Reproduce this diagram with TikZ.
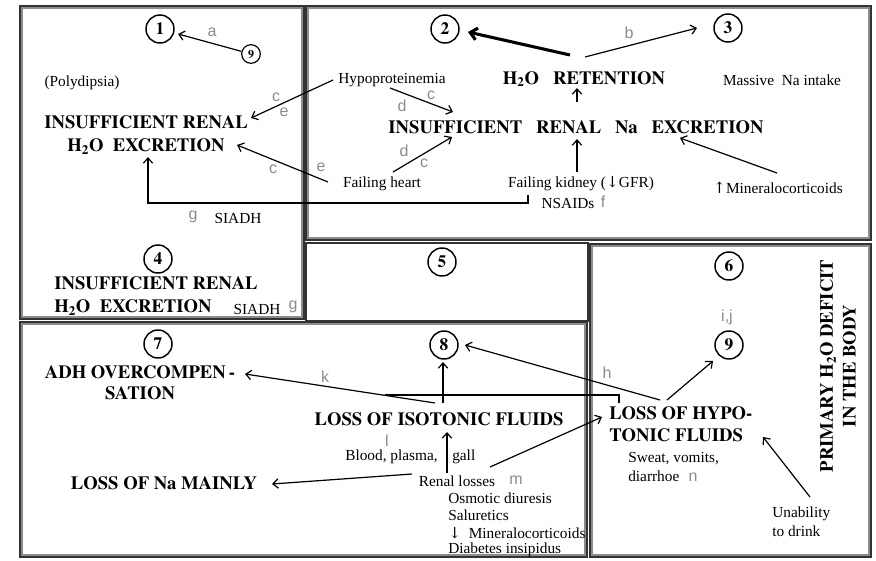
\documentclass[tikz,border=0pt]{standalone}
\usepackage{fontspec}
\setmainfont{Liberation Serif}
\newfontfamily\tbold{texgyretermes-bold.otf}
\newfontfamily\labfont{Liberation Sans}
\newfontfamily\arrfont{DejaVu Serif}
\usetikzlibrary{arrows.meta}
\begin{document}
\begin{tikzpicture}[x=0.75pt,y=-0.75pt,
  bold/.style={font=\tbold\fontsize{14}{16}\selectfont, inner sep=0pt},
  txt/.style={font=\fontsize{11.5}{12.8}\selectfont, inner sep=0pt},
  lab/.style={font=\labfont\fontsize{12}{14}\selectfont, text=black!45, inner sep=0pt},
  num/.style={circle, draw, line width=1.1pt, minimum size=21pt, inner sep=0pt, font=\tbold\fontsize{13}{13}\selectfont},
  snum/.style={num, minimum size=14pt, line width=0.9pt, font=\tbold\fontsize{9}{9}\selectfont},
  arr/.style={-{Straight Barb[length=4pt,width=7pt]}, line width=0.9pt},
  tarr/.style={-{Straight Barb[length=5pt,width=9pt]}, line width=2.3pt},
  boxo/.style={draw=black!80, line width=1.5pt},
  boxi/.style={draw=black!45, line width=1.5pt}]
\fill[white] (0,0) rectangle (876,561);
\useasboundingbox (0,0) rectangle (876,561);
% boxes
\draw[boxo] (20,6) rectangle (304,319);
\draw[boxi] (22,8) rectangle (302,317);
\draw[boxo] (306,6) rectangle (871,240);
\draw[boxi] (308,8) rectangle (869,238);
\draw[boxo] (306,243) rectangle (588,321);
\draw[boxo] (590,244) rectangle (871,557);
\draw[boxi] (592,246) rectangle (869,555);
\draw[boxo] (20,322) rectangle (587,557);
\draw[boxi] (22,324) rectangle (585,555);

% ---------- box 1
\node[num] (c1) at (160,29) {1};
\node[snum] (s9) at (251,54) {9};
\draw[arr, shorten >=3pt] (s9) -- (c1);
\node[lab] (la) at (212,32) {a};
\node[txt] (poly) at (82,83) {(Polydipsia)};
\node[bold, align=center] (ire1) at (146,135) {INSUFFICIENT RENAL\\[1pt]H\textsubscript{2}O\ \ EXCRETION};
\coordinate (ire1a) at (251,118);
\coordinate (ire1b) at (237,145);
\coordinate (ire1c) at (148,157);
\node[lab] (lc1) at (276,97) {c};
\node[lab] (le1) at (284,112) {e};
\node[lab] (lc2) at (273,169) {c};
\node[lab] (le2) at (321,167) {e};
\node[lab] (lg1) at (193,217) {g};
\node[txt] (siadh1) at (238,218) {SIADH};
\node[num] (c4) at (158,259) {4};
\node[bold, align=left, anchor=west, font=\tbold\fontsize{14}{17}\selectfont] (ire4) at (54,296) {INSUFFICIENT RENAL\\H\textsubscript{2}O\ \ EXCRETION};
\node[txt] (siadh2) at (257,309) {SIADH};
\node[lab] (lg2) at (293,307) {g};

% ---------- box 2/3
\node[num] (c2) at (445,29) {2};
\node[num] (c3) at (728,28) {3};
\node[bold] (ret) at (584,79) {H\textsubscript{2}O\ \ \ RETENTION};
\node[bold] (irna) at (576,127) {INSUFFICIENT\ \ \ RENAL\ \ \ Na\ \ \ EXCRETION};
\node[txt] (hypo) at (392,80) {Hypoproteinemia};
\node[txt] (heart) at (382,184) {Failing heart};
\node[txt] (kidney) at (581,184) {Failing kidney ({\arrfont ↓}GFR)};
\node[txt] (nsaid) at (568,203) {NSAIDs};
\node[lab] (lf) at (603,202) {f};
\node[txt] (mass) at (782,80) {Massive\ \ Na intake};
\node[txt] (mineral) at (778,188) {{\arrfont ↑}Mineralocorticoids};
\coordinate (r1) at (570,55);
\coordinate (r2) at (585,57);
\draw[tarr] (r1) -- (468,32) coordinate (c2e);
\draw[arr] (r2) -- (697,28) coordinate (c3e);
\node[lab] (lb) at (629,33) {b};
\draw[arr] (577,102) coordinate (irtop) -- (577,88) coordinate (retb);
\draw[arr] (577,172) coordinate (kidt) -- (577,139) coordinate (irbot);
\draw[arr] (777,173) coordinate (mint) -- (680,138) coordinate (irr);
\draw[arr] (390,88) coordinate (hypob) -- (453,112) coordinate (irl1);
\draw[arr] (393,172) coordinate (heartt) -- (452,137) coordinate (irl2);
\node[lab] (lc3) at (431,95) {c};
\node[lab] (ld1) at (402,106) {d};
\node[lab] (ld2) at (404,151) {d};
\node[lab] (lc4) at (424,163) {c};
% to box 1
\draw[arr] (333,80) coordinate (hypow) -- (ire1a);
\draw[arr] (328,182) coordinate (heartw) -- (ire1b);
\draw[arr] (528,195) coordinate (kidb) -- (528,203) -- (148,203) -- (ire1c);

% ---------- box 5
\node[num] (c5) at (442,262) {5};

% ---------- box 6
\node[num] (c6) at (729,266) {6};
\node[lab] (lij) at (727,317) {i,j};
\node[num] (c9) at (729,345) {9};
\node[bold, align=left, anchor=west, font=\tbold\fontsize{14}{16.5}\selectfont] (hyp) at (609,424) {LOSS OF HYPO-\\TONIC FLUIDS};
\node[txt, align=left, anchor=west, font=\fontsize{11.5}{14.3}\selectfont] (sweat) at (628,467) {Sweat, vomits,\\diarrhoe};
\node[lab] (ln) at (693,477) {n};
\node[txt, align=left, anchor=west, font=\fontsize{11.5}{14.3}\selectfont] (unab) at (772,522) {Unability\\to drink};
\draw[arr] (810,497) coordinate (unabt) -- (763,437) coordinate (hype);
\node[bold, rotate=90, align=center, font=\tbold\fontsize{14}{17}\selectfont] (prim) at (838,366) {PRIMARY H\textsubscript{2}O DEFICIT\\IN THE BODY};
\draw[arr] (667,400) coordinate (hypt) -- (713,361) coordinate (c9e);
\node[lab] (lh) at (607,373) {h};

% ---------- box 7/8
\node[num] (c7) at (158,344) {7};
\node[num] (c8) at (444,345) {8};
\node[bold, align=center] (adh) at (140,383) {ADH OVERCOMPEN\,-\\SATION};
\node[bold] (iso) at (439,419) {LOSS OF ISOTONIC FLUIDS};
\node[bold] (nam) at (164,483) {LOSS OF Na MAINLY};
\draw[arr] (660,400) coordinate (hypt2) -- (465,345) coordinate (c8e);
\draw[arr] (435,403) coordinate (isol) -- (245,374) coordinate (adhe);
\node[lab] (lk) at (325,377) {k};
\draw[line width=0.9pt] (385,395) coordinate (brl) -- (619,395) -- (619,403) coordinate (hypb);
\draw[arr] (443,403) coordinate (isot) -- (443,362) coordinate (c8b);
\node[lab] (ll) at (387,441) {l};
\node[txt, anchor=east] (blood) at (438,457) {Blood, plasma,};
\node[txt, anchor=west] (gall) at (452,457) {gall};
\draw[arr] (447,473) coordinate (renalt) -- (447,432) coordinate (isob);
\node[txt] (renal) at (457,481) {Renal losses};
\node[lab] (lm) at (516,480) {m};
\draw[arr] (412,474) coordinate (renalw) -- (272,484) coordinate (name);
\draw[arr] (490,467) coordinate (renale) -- (602,417) coordinate (hypw);
\node[txt, anchor=west] (osm) at (448,498) {Osmotic diuresis};
\node[txt, anchor=west] (salu) at (448,515) {Saluretics};
\node[txt, anchor=west] (min2) at (448,533) {{\arrfont ↓}\ \ Mineralocorticoids};
\node[txt, anchor=west] (diab) at (448,550) {Diabetes insipidus};
\end{tikzpicture}
\end{document}
